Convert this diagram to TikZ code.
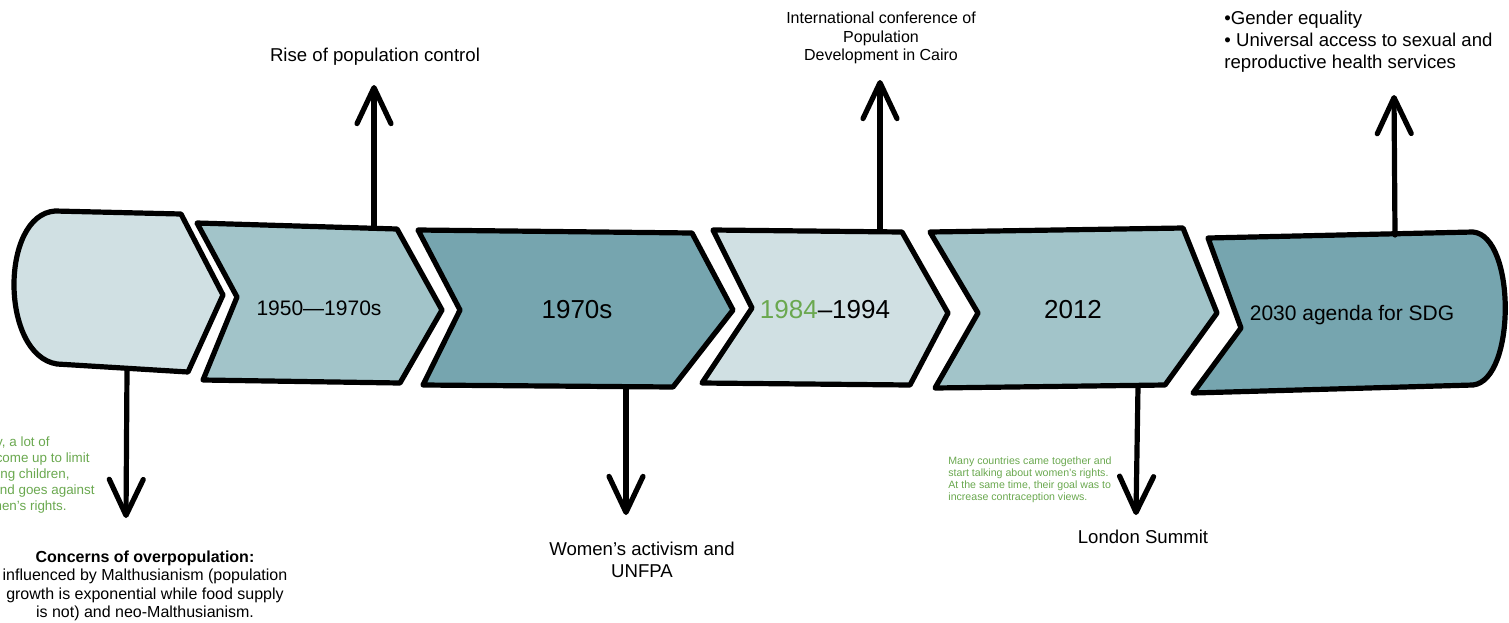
\documentclass[tikz,border=0pt]{standalone}
\usepackage{fontspec}
\setmainfont{Liberation Sans}
\usetikzlibrary{arrows.meta}
\definecolor{cyanlight}{HTML}{D0E0E3}
\definecolor{cyanmid}{HTML}{A2C4C9}
\definecolor{cyandark}{HTML}{76A5AF}
\definecolor{notegreen}{HTML}{6AA84F}
\tikzset{
  stage/.style={draw=black, line width=2.6pt, line join=round},
  bigarrow/.style={-{Straight Barb[length=18pt, width=17pt, round]},
    line width=2.6pt, line cap=round},
  lbl/.style={font=\fontsize{9.3}{11}\selectfont, align=center, inner sep=0pt},
  smalllbl/.style={font=\fontsize{8}{9.4}\selectfont, align=center, inner sep=0pt},
  year/.style={font=\fontsize{13}{15}\selectfont, inner sep=0pt},
  midyear/.style={font=\fontsize{10.5}{12}\selectfont, inner sep=0pt},
  note/.style={font=\fontsize{5.3}{6}\selectfont, text=notegreen, inner sep=0pt}
}
\begin{document}
\begin{tikzpicture}[x=0.5pt, y=-0.5pt]
  \useasboundingbox (0,0) rectangle (1509,622);

  % Timeline stages
  \draw[stage, fill=cyanlight] (55,211) -- (181,214) -- (223,295) -- (188,372)
    -- (57,364) .. controls (0,355) and (0,215) .. cycle;
  \draw[stage, fill=cyanmid] (197,223) -- (397,229) -- (442,310) -- (400,383)
    -- (203,380) -- (237,297) -- cycle;
  \draw[stage, fill=cyandark] (418,230) -- (692,233) -- (733,310) -- (673,387)
    -- (423,385) -- (460,310) -- cycle;
  \draw[stage, fill=cyanlight] (713,230) -- (902,232) -- (948,313) -- (910,385)
    -- (702,383) -- (752,308) -- cycle;
  \draw[stage, fill=cyanmid] (930,232) -- (1183,228) -- (1217,313) -- (1165,385)
    -- (935,388) -- (978,313) -- cycle;
  \draw[stage, fill=cyandark] (1208,238) -- (1473,232)
    .. controls (1516,236) and (1516,380) .. (1473,385)
    -- (1193,393) -- (1241,328) -- cycle;

  % Stage labels
  \node[midyear] (y1) at (319,308) {1950---1970s};
  \node[year] (y2) at (577,310) {1970s};
  \node[year] (y3) at (825,310) {\textcolor{notegreen}{1984}--1994};
  \node[year] (y4) at (1073,310) {2012};
  \node[midyear] (y5) at (1352,315) {2030 agenda for SDG};

  % Attachment points on the stages
  \coordinate (s0) at (127,370);
  \coordinate (s1) at (374,228);
  \coordinate (s2) at (626,387);
  \coordinate (s3) at (880,231);
  \coordinate (s4) at (1138,386);
  \coordinate (s5) at (1395,235);

  % Arrow tips
  \coordinate (e0) at (126,518);
  \coordinate (e1) at (374,85);
  \coordinate (e2) at (626,515);
  \coordinate (e3) at (880,80);
  \coordinate (e4) at (1136,515);
  \coordinate (e5) at (1394,95);

  \foreach \i in {0,...,5}
    \draw[bigarrow] (s\i) -- (e\i);

  % Event texts
  \node[lbl] (rise) at (375,57) {Rise of population control};
  \node[smalllbl] (cairo) at (881,38) {International conference of\\Population\\Development in Cairo};
  \node[lbl, align=left, anchor=west] (sdg) at (1224,42)
    {•Gender equality\\• Universal access to sexual and\\reproductive health services};
  \node[lbl] (unfpa) at (642,560) {Women's activism and\\UNFPA};
  \node[lbl] (london) at (1143,537) {London Summit};
  \node[smalllbl, font=\fontsize{8}{9.25}\selectfont] (malthus) at (145,586)
    {\textbf{Concerns of overpopulation:}\\influenced by Malthusianism (population\\growth is exponential while food supply\\is not) and neo-Malthusianism.};

  % Green side notes
  \node[note, align=left, anchor=west] (summit) at (948,480)
    {Many countries came together and\\start talking about women's rights.\\At the same time, their goal was to\\increase contraception views.};
  \node[note, align=right, anchor=east, font=\fontsize{6.7}{8.1}\selectfont] (limit) at (95,475)
    {\mbox{y, a lot of\hspace{22.5pt}}\\\mbox{come up to limit\hspace{2.5pt}}\\
     \mbox{ing children,\hspace{12.5pt}}\\\mbox{nd goes against}\\\mbox{men's rights.\hspace{14pt}}};
\end{tikzpicture}
\end{document}
